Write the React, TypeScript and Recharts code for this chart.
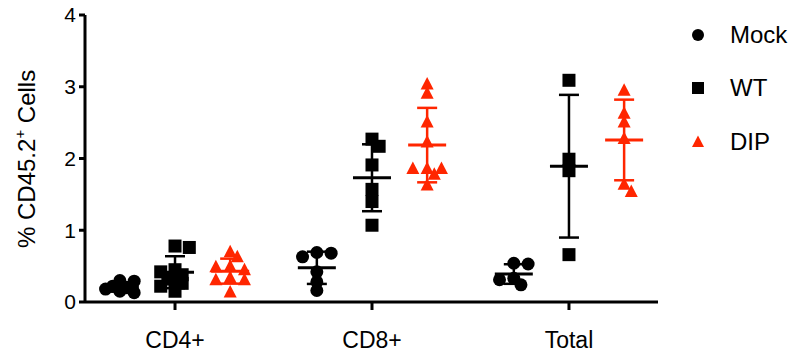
import React from 'react';
import { ScatterChart, Scatter, XAxis, YAxis, ErrorBar } from 'recharts';

// groups on the x axis and the three treatment series
const categories = ['CD4+', 'CD8+', 'Total'];
const seriesNames = ['Mock', 'WT', 'DIP'];
const yTicks = [0, 1, 2, 3, 4];

// individual animals, one list per group (CD4+, CD8+, Total)
const mockValues = [
  [0.30, 0.29, 0.22, 0.20, 0.18, 0.15, 0.13],
  [0.69, 0.68, 0.63, 0.42, 0.28, 0.16],
  [0.54, 0.53, 0.33, 0.31, 0.24],
];
const wtValues = [
  [0.78, 0.76, 0.45, 0.42, 0.38, 0.32, 0.26, 0.22, 0.15],
  [2.27, 2.17, 1.91, 1.57, 1.40, 1.07],
  [3.09, 1.99, 1.83, 0.66],
];
const dipValues = [
  [0.70, 0.63, 0.50, 0.49, 0.45, 0.34, 0.31, 0.31, 0.14],
  [3.04, 2.91, 2.51, 2.23, 1.86, 1.86, 1.86, 1.78, 1.63],
  [2.95, 2.63, 2.51, 2.28, 1.64, 1.54],
];

const allValues = [mockValues, wtValues, dipValues];

// layout
const W = 793;
const H = 362;
const X_AXIS_H = 55;
const margin = { top: 15, right: 135, bottom: 5, left: 0 };
const Y_AXIS_W = 85;
const xDomain: [number, number] = [-0.457, 2.452];
const seriesOffset = [-0.28, 0, 0.28];
const colors = ['#000000', '#000000', '#FF2600'];
const kinds = ['circle', 'square', 'triangle'];
const MARK = 13;
const FONT = '"Liberation Sans", Arial, sans-serif';

const plotW = W - margin.left - margin.right - Y_AXIS_W;
const plotH = H - margin.top - margin.bottom - X_AXIS_H;
const pxPerX = plotW / (xDomain[1] - xDomain[0]);
const pxPerY = plotH / (yTicks[yTicks.length - 1] - yTicks[0]);

// simple beeswarm so overlapping markers spread sideways like the prism plot
function spread(values: number[]): number[] {
  const order = values.map((_, i) => i).sort((a, b) => values[b] - values[a]);
  const placed: { x: number; y: number }[] = [];
  const out = new Array(values.length).fill(0);
  const step = MARK * 0.55;
  const minD = MARK * 0.65;
  let side = 1;
  for (const i of order) {
    const y = values[i] * pxPerY;
    const cands = [0];
    for (let k = 1; k <= 2; k++) cands.push(side * k * step, -side * k * step);
    let best = 0;
    let bestScore = -1;
    for (const c of cands) {
      const d = placed.length ? Math.min(...placed.map((p) => Math.hypot(p.x - c, p.y - y))) : Infinity;
      if (d >= minD) { best = c; break; }
      if (d > bestScore) { bestScore = d; best = c; }
    }
    if (best !== 0) side = -Math.sign(best);
    placed.push({ x: best, y });
    out[i] = best / pxPerX;
  }
  return out;
}

function mean(v: number[]) {
  return v.reduce((a, b) => a + b, 0) / v.length;
}
function sd(v: number[]) {
  const m = mean(v);
  return Math.sqrt(v.reduce((a, b) => a + (b - m) * (b - m), 0) / (v.length - 1));
}

const pointData = allValues.map((groups, s) =>
  groups.flatMap((vals, g) => {
    const dx = spread(vals);
    return vals.map((y, i) => ({ x: g + seriesOffset[s] + dx[i], y }));
  })
);

const summaryData = allValues.map((groups, s) =>
  groups.map((vals, g) => ({ x: g + seriesOffset[s], y: mean(vals), sd: sd(vals) }))
);

function Marker({ cx, cy, kind, color, r = MARK / 2 }: any) {
  if (cx == null || cy == null) return null;
  if (kind === 'circle') return <circle cx={cx} cy={cy} r={r} fill={color} />;
  if (kind === 'square') return <rect x={cx - r} y={cy - r} width={r * 2} height={r * 2} fill={color} />;
  return <polygon points={`${cx},${cy - r - 0.5} ${cx + r},${cy + r - 1} ${cx - r},${cy + r - 1}`} fill={color} />;
}

function MeanLine({ cx, cy, color }: any) {
  if (cx == null || cy == null) return null;
  return <line x1={cx - 19} x2={cx + 19} y1={cy} y2={cy} stroke={color} strokeWidth={3} />;
}

function YLabel() {
  const x = 35;
  const y = 248;
  return (
    <text
      x={x}
      y={y}
      transform={`rotate(-90, ${x}, ${y})`}
      textAnchor="start"
      fontFamily={FONT}
      fontSize={24}
      fill="#000"
    >
      % CD45.2<tspan fontSize={15} dy={-10}>+</tspan>
      <tspan dy={10}> Cells</tspan>
    </text>
  );
}

function LegendBox() {
  return (
    <div
      style={{
        position: 'absolute',
        left: 686,
        top: 8,
        fontFamily: FONT,
        fontSize: 24,
        color: '#000',
      }}
    >
      {seriesNames.map((name, s) => (
        <div key={name} style={{ display: 'flex', alignItems: 'center', height: 53.5 }}>
          <svg width={24} height={20} style={{ marginRight: 20 }}>
            <Marker cx={12} cy={10} kind={kinds[s]} color={colors[s]} r={6} />
          </svg>
          <span>{name}</span>
        </div>
      ))}
    </div>
  );
}

export default function App() {
  return (
    <div style={{ position: 'absolute', left: 0, top: 0, width: W, height: H, background: '#fff' }}>
      <ScatterChart width={W} height={H} margin={margin}>
        <XAxis
          type="number"
          dataKey="x"
          domain={xDomain}
          ticks={[0, 1, 2]}
          tickFormatter={(v: number) => categories[v]}
          height={X_AXIS_H}
          allowDataOverflow
          axisLine={{ stroke: '#000', strokeWidth: 3 }}
          tickLine={{ stroke: '#000', strokeWidth: 3 }}
          tickSize={8}
          tickMargin={22}
          tick={{ fill: '#000', fontSize: 23, fontFamily: FONT }}
        />
        <YAxis
          type="number"
          dataKey="y"
          domain={[0, 4]}
          ticks={yTicks}
          width={Y_AXIS_W}
          allowDataOverflow
          axisLine={{ stroke: '#000', strokeWidth: 3 }}
          tickLine={{ stroke: '#000', strokeWidth: 3 }}
          tickSize={6}
          tickMargin={3}
          tick={{ fill: '#000', fontSize: 21, fontFamily: FONT }}
          label={<YLabel />}
        />
        {seriesNames.map((name, s) => (
          <Scatter
            key={name}
            name={name}
            data={pointData[s]}
            fill={colors[s]}
            isAnimationActive={false}
            shape={(p: any) => <Marker cx={p.cx} cy={p.cy} kind={kinds[s]} color={colors[s]} />}
          />
        ))}
        {seriesNames.map((name, s) => (
          <Scatter
            key={name + '-sd'}
            name={name + ' mean'}
            data={summaryData[s]}
            legendType="none"
            isAnimationActive={false}
            shape={(p: any) => <MeanLine cx={p.cx} cy={p.cy} color={colors[s]} />}
          >
            <ErrorBar dataKey="sd" direction="y" width={10} strokeWidth={2.5} stroke={colors[s]} />
          </Scatter>
        ))}
      </ScatterChart>
      <LegendBox />
    </div>
  );
}
